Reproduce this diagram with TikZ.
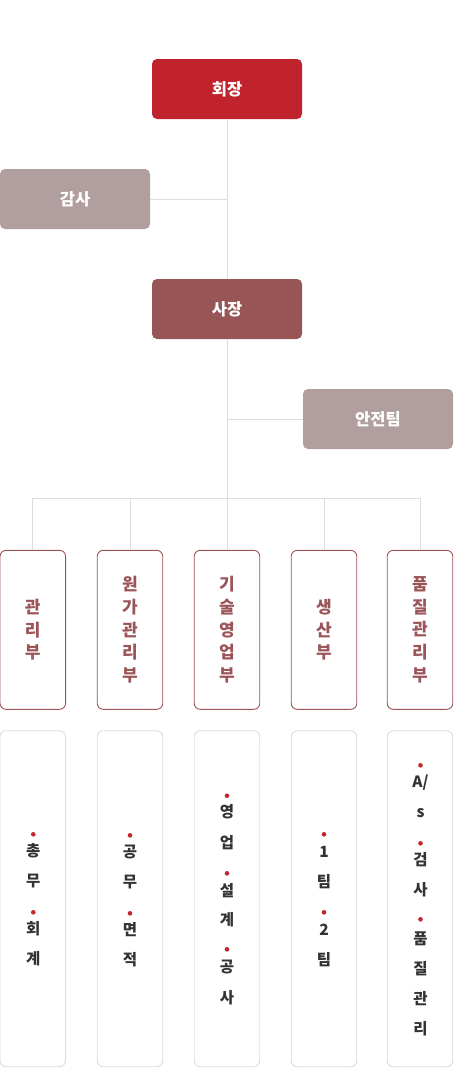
\documentclass[tikz,border=0pt]{standalone}
\usepackage{fontspec}
\newfontfamily\kr{Noto Sans CJK KR}
\definecolor{cRed}{HTML}{C0232C}
\definecolor{cGray}{HTML}{B19E9F}
\definecolor{cBrown}{HTML}{975556}
\definecolor{cDept}{HTML}{9B5457}
\definecolor{cLine}{HTML}{DDDDDD}
\definecolor{cText}{HTML}{333333}
\definecolor{cDot}{HTML}{C1272D}
\tikzset{
  topbox/.style={rounded corners=5pt, minimum width=150pt, minimum height=60pt, inner sep=0pt, text=white, font=\kr\bfseries\fontsize{16.5}{20}\selectfont},
  deptbox/.style={draw=cDept, line width=0.9pt, fill=white, rounded corners=6pt, minimum width=65.5pt, minimum height=159pt, inner sep=0pt, text=cDept, align=center, font=\kr\bfseries\fontsize{17}{22.6}\selectfont},
  subbox/.style={draw=cLine, line width=0.9pt, fill=white, rounded corners=6pt, minimum width=65.5pt, minimum height=336pt, inner sep=0pt},
  conn/.style={draw=cLine, line width=1pt},
  itm/.style={text=cText, inner sep=0pt, font=\kr\bfseries\fontsize{15.5}{18}\selectfont},
  reddot/.style={circle, fill=cDot, inner sep=0pt, minimum size=4.6pt}
}
\begin{document}
\begin{tikzpicture}[x=1pt,y=-1pt]
\useasboundingbox (0,0) rectangle (453,1068);
% top nodes
\node[topbox, fill=cRed] (hoe) at (227,89) {회장};
\node[topbox, fill=cGray] (gam) at (75,199) {감사};
\node[topbox, fill=cBrown] (sa) at (227,309) {사장};
\node[topbox, fill=cGray] (an) at (378,419) {안전팀};
\coordinate (bus) at (0,498.7);
\path (32.8,629.8) coordinate (c1) (130,629.8) coordinate (c2) (227,629.8) coordinate (c3) (324,629.8) coordinate (c4) (420,629.8) coordinate (c5);
\draw[conn] (hoe.south) -- (sa.north);
\draw[conn] (gam.east) -- (gam.east -| hoe.south);
\draw[conn] (an.west) -- (an.west -| sa.south);
% departments
\node[deptbox] (d1) at (c1) {관\\리\\부};
\node[deptbox] (d2) at (c2) {원\\가\\관\\리\\부};
\node[deptbox] (d3) at (c3) {기\\술\\영\\업\\부};
\node[deptbox] (d4) at (c4) {생\\산\\부};
\node[deptbox] (d5) at (c5) {품\\질\\관\\리\\부};
\draw[conn] (sa.south) -- (d3.north);
\draw[conn] (d1.north) |- (bus -| d5.north) -- (d5.north);
\draw[conn] (d2.north) -- (d2.north |- bus);
\draw[conn] (d4.north) -- (d4.north |- bus);
% sub boxes
\node[subbox] (s1) at (32.8,898.7) {};
\node[subbox] (s2) at (130,898.7) {};
\node[subbox] (s3) at (227,898.7) {};
\node[subbox] (s4) at (324,898.7) {};
\node[subbox] (s5) at (420,898.7) {};
% column 1
\node[reddot] (p1a) at (33.3,834.3) {};
\node[itm] (t1a) at (33.3,851) {총};
\node[itm] (t1b) at (33.3,881) {무};
\node[reddot] (p1b) at (33.3,912.3) {};
\node[itm] (t1c) at (33.3,929) {회};
\node[itm] (t1d) at (33.3,959) {계};
% column 2
\node[reddot] (p2a) at (130,835.3) {};
\node[itm] (t2a) at (130,851.7) {공};
\node[itm] (t2b) at (130,882) {무};
\node[reddot] (p2b) at (130,913.3) {};
\node[itm] (t2c) at (130,930) {면};
\node[itm] (t2d) at (130,960) {적};
% column 3
\node[reddot] (p3a) at (227,795.7) {};
\node[itm] (t3a) at (227,811.7) {영};
\node[itm] (t3b) at (227,842.3) {업};
\node[reddot] (p3b) at (227,873.3) {};
\node[itm] (t3c) at (227,890.7) {설};
\node[itm] (t3d) at (227,920) {계};
\node[reddot] (p3c) at (227,949.3) {};
\node[itm] (t3e) at (227,967.3) {공};
\node[itm] (t3f) at (227,997.7) {사};
% column 4
\node[reddot] (p4a) at (324,834.3) {};
\node[itm] (t4a) at (324,851.7) {1};
\node[itm] (t4b) at (324,881.7) {팀};
\node[reddot] (p4b) at (324,912.3) {};
\node[itm] (t4c) at (324,929.3) {2};
\node[itm] (t4d) at (324,959.3) {팀};
% column 5
\node[reddot] (p5a) at (420.5,765.3) {};
\node[itm] (t5a) at (420.5,782.3) {A/};
\node[itm] (t5b) at (420.5,813.3) {s};
\node[reddot] (p5b) at (420.5,843.3) {};
\node[itm] (t5c) at (420.5,860) {검};
\node[itm] (t5d) at (420.5,890) {사};
\node[reddot] (p5c) at (420.5,919.3) {};
\node[itm] (t5e) at (420.5,938.3) {품};
\node[itm] (t5f) at (420.5,968.3) {질};
\node[itm] (t5g) at (420.5,998.3) {관};
\node[itm] (t5h) at (420.5,1028.3) {리};
\end{tikzpicture}
\end{document}
